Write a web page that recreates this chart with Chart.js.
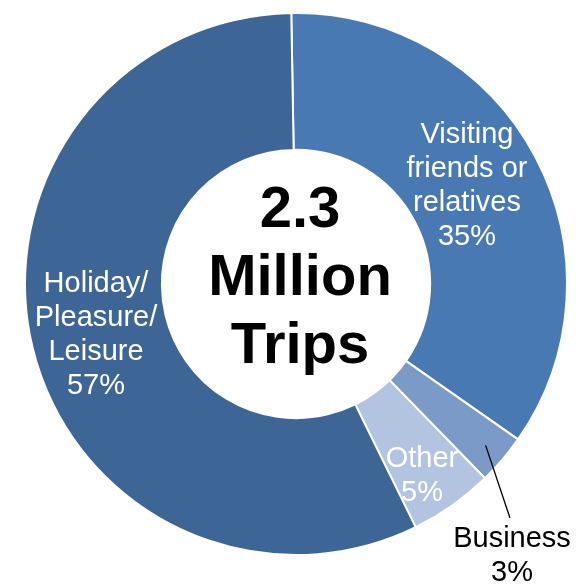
<!DOCTYPE html>
<html>
<head>
<meta charset="utf-8">
<script src="https://cdn.jsdelivr.net/npm/chart.js@4"></script>
<style>
html,body{margin:0;padding:0;background:#fff;}
canvas{display:block;}
</style>
</head>
<body>
<canvas id="c" width="576" height="584"></canvas>
<script>
const categories = ["Visiting friends or relatives", "Business", "Other", "Holiday/Pleasure/Leisure"];
const shares = [35, 3, 5, 57];
const colors = ["#4879B2", "#7C9AC8", "#B3C4E0", "#3D6696"];
const labelLines = [
  ["Visiting", "friends or", "relatives", "35%"],
  ["Business", "3%"],
  ["Other", "5%"],
  ["Holiday/", "Pleasure/", "Leisure", "57%"]
];
const centerLines = ["2.3", "Million", "Trips"];

// label placement relative to the doughnut centre (dx, first baseline dy)
const labelPlace = [
  {dx: 171, dy: -141, color: "#ffffff"},
  {dx: 216, dy: 263, color: "#000000"},
  {dx: 126, dy: 183, color: "#ffffff"},
  {dx: -200, dy: 8, color: "#ffffff"}
];

const labelsPlugin = {
  id: "labels",
  afterDraw(chart) {
    const ctx = chart.ctx;
    const arc0 = chart.getDatasetMeta(0).data[0];
    const cx = arc0.x, cy = arc0.y;
    ctx.save();
    ctx.textAlign = "center";
    ctx.textBaseline = "alphabetic";
    ctx.font = "29px 'Liberation Sans', Arial, sans-serif";
    labelLines.forEach((lines, i) => {
      const p = labelPlace[i];
      ctx.fillStyle = p.color;
      lines.forEach((t, j) => {
        ctx.fillText(t, cx + p.dx, cy + p.dy + j * 34);
      });
    });
    // leader line for Business
    const b = chart.getDatasetMeta(0).data[1];
    const mid = (b.startAngle + b.endAngle) / 2;
    const r = b.outerRadius - 22;
    ctx.strokeStyle = "#000";
    ctx.lineWidth = 1.3;
    ctx.beginPath();
    ctx.moveTo(cx + Math.cos(mid) * r, cy + Math.sin(mid) * r);
    ctx.lineTo(cx + 214, cy + 234);
    ctx.stroke();
    // centre text
    ctx.fillStyle = "#000";
    ctx.font = "bold 58px 'Liberation Sans', Arial, sans-serif";
    centerLines.forEach((t, j) => {
      ctx.fillText(t, cx + 4, cy - 57 + j * 68);
    });
    ctx.restore();
  }
};

new Chart(document.getElementById("c"), {
  type: "doughnut",
  data: {
    labels: categories,
    datasets: [{
      data: shares,
      backgroundColor: colors,
      borderColor: "#ffffff",
      borderWidth: 2
    }]
  },
  options: {
    responsive: false,
    animation: false,
    rotation: -1,
    cutout: "49.5%",
    layout: {padding: {left: 24, right: 8, top: 12, bottom: 28}},
    plugins: {legend: {display: false}, tooltip: {enabled: false}}
  },
  plugins: [labelsPlugin]
});
</script>
</body>
</html>
